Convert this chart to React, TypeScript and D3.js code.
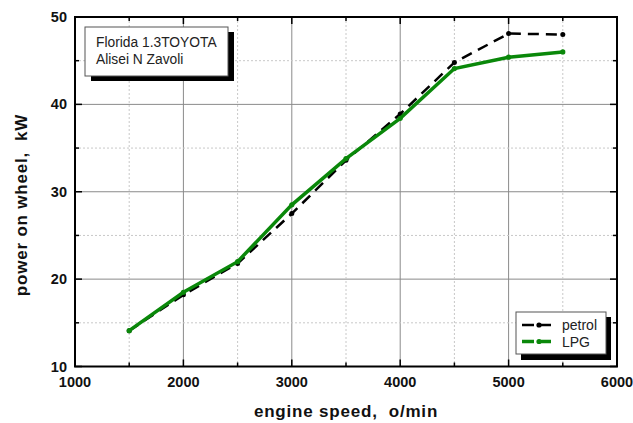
import React, { useEffect, useRef } from 'react';
import * as d3 from 'd3';

const speeds = [1500, 2000, 2500, 3000, 3500, 4000, 4500, 5000, 5500];
const petrol = [14.1, 18.2, 21.8, 27.5, 33.6, 38.9, 44.8, 48.1, 48.0];
const lpg = [14.1, 18.5, 22.0, 28.5, 33.8, 38.4, 44.1, 45.4, 46.0];
const xTicks = [1000, 2000, 3000, 4000, 5000, 6000];
const yTicks = [10, 20, 30, 40, 50];
const xMinor = [1500, 2500, 3500, 4500, 5500];
const yMinor = [15, 25, 35, 45];
const noteLines = ['Florida 1.3TOYOTA', 'Alisei N Zavoli'];

const W = 633;
const H = 423;
const FONT = '"Liberation Sans", Arial, sans-serif';

function App() {
  const ref = useRef<SVGSVGElement | null>(null);

  useEffect(() => {
    if (!ref.current) return;
    const svg = d3.select(ref.current);
    svg.selectAll('*').remove();

    const x = d3.scaleLinear().domain([1000, 6000]).range([75, 617]);
    const y = d3.scaleLinear().domain([10, 50]).range([366.5, 17]);
    const [x0, x1] = x.range();
    const [y0, y1] = y.range();

    svg.append('rect').attr('width', W).attr('height', H).attr('fill', '#fff');

    // grid
    const g = svg.append('g');
    g.selectAll('.gx').data(xTicks.slice(1, -1)).enter().append('line')
      .attr('x1', (d) => x(d)).attr('x2', (d) => x(d)).attr('y1', y1).attr('y2', y0)
      .attr('stroke', '#8a8a8a').attr('stroke-width', 1);
    g.selectAll('.gy').data(yTicks.slice(1, -1)).enter().append('line')
      .attr('y1', (d) => y(d)).attr('y2', (d) => y(d)).attr('x1', x0).attr('x2', x1)
      .attr('stroke', '#8a8a8a').attr('stroke-width', 1);
    g.selectAll('.mx').data(xMinor).enter().append('line')
      .attr('x1', (d) => x(d)).attr('x2', (d) => x(d)).attr('y1', y1).attr('y2', y0)
      .attr('stroke', '#c8c8c8').attr('stroke-width', 1).attr('stroke-dasharray', '2,2');
    g.selectAll('.my').data(yMinor).enter().append('line')
      .attr('y1', (d) => y(d)).attr('y2', (d) => y(d)).attr('x1', x0).attr('x2', x1)
      .attr('stroke', '#c8c8c8').attr('stroke-width', 1).attr('stroke-dasharray', '2,2');

    // inward ticks on all four sides
    const t = svg.append('g').attr('stroke', '#000').attr('stroke-width', 1.5);
    const tx = (vals: number[], len: number) => {
      vals.forEach((v) => {
        t.append('line').attr('x1', x(v)).attr('x2', x(v)).attr('y1', y0).attr('y2', y0 - len);
        t.append('line').attr('x1', x(v)).attr('x2', x(v)).attr('y1', y1).attr('y2', y1 + len);
      });
    };
    const ty = (vals: number[], len: number) => {
      vals.forEach((v) => {
        t.append('line').attr('y1', y(v)).attr('y2', y(v)).attr('x1', x0).attr('x2', x0 + len);
        t.append('line').attr('y1', y(v)).attr('y2', y(v)).attr('x1', x1).attr('x2', x1 - len);
      });
    };
    tx(xTicks, 7);
    tx(xMinor, 4);
    ty(yTicks, 7);
    ty(yMinor, 4);

    svg.append('rect')
      .attr('x', x0).attr('y', y1).attr('width', x1 - x0).attr('height', y0 - y1)
      .attr('fill', 'none').attr('stroke', '#000').attr('stroke-width', 2);

    // tick labels
    svg.append('g').selectAll('text').data(xTicks).enter().append('text')
      .attr('x', (d) => x(d)).attr('y', 387).attr('text-anchor', 'middle')
      .attr('font-family', FONT).attr('font-weight', 'bold').attr('font-size', 14.5)
      .attr('fill', '#111').text((d) => d);
    svg.append('g').selectAll('text').data(yTicks).enter().append('text')
      .attr('x', 67).attr('y', (d) => y(d) + 5).attr('text-anchor', 'end')
      .attr('font-family', FONT).attr('font-weight', 'bold').attr('font-size', 14.5)
      .attr('fill', '#111').text((d) => d);

    // axis titles
    svg.append('text')
      .attr('x', (x0 + x1) / 2).attr('y', 417).attr('text-anchor', 'middle')
      .attr('font-family', FONT).attr('font-weight', 'bold').attr('font-size', 17)
      .attr('letter-spacing', 0.8)
      .attr('fill', '#111').style('white-space', 'pre')
      .text('engine speed,  o/min');
    svg.append('text')
      .attr('transform', 'translate(27,205) rotate(-90)').attr('text-anchor', 'middle')
      .attr('font-family', FONT).attr('font-weight', 'bold').attr('font-size', 17)
      .attr('letter-spacing', 0.8)
      .attr('fill', '#111').style('white-space', 'pre')
      .text('power on wheel,  kW');

    // series
    const line = d3.line<number>().x((_, i) => x(speeds[i])).y((d) => y(d));
    svg.append('path').datum(petrol).attr('d', line)
      .attr('fill', 'none').attr('stroke', '#000').attr('stroke-width', 2.5)
      .attr('stroke-dasharray', '11,7');
    svg.append('g').selectAll('circle').data(petrol).enter().append('circle')
      .attr('cx', (_, i) => x(speeds[i])).attr('cy', (d) => y(d)).attr('r', 2.5).attr('fill', '#000');
    svg.append('path').datum(lpg).attr('d', line)
      .attr('fill', 'none').attr('stroke', '#0a880a').attr('stroke-width', 3.5);
    svg.append('g').selectAll('circle').data(lpg).enter().append('circle')
      .attr('cx', (_, i) => x(speeds[i])).attr('cy', (d) => y(d)).attr('r', 2.6).attr('fill', '#0a880a');

    // annotation box
    const note = svg.append('g');
    note.append('rect').attr('x', 91).attr('y', 32).attr('width', 143).attr('height', 49).attr('fill', '#000');
    note.append('rect').attr('x', 85).attr('y', 27).attr('width', 143).attr('height', 49)
      .attr('fill', '#fff').attr('stroke', '#555').attr('stroke-width', 1);
    noteLines.forEach((s, i) => {
      note.append('text').attr('x', 96).attr('y', 47 + i * 17)
        .attr('font-family', FONT).attr('font-size', 13.8).attr('fill', '#222').text(s);
    });

    // legend
    const leg = svg.append('g');
    leg.append('rect').attr('x', 521).attr('y', 317).attr('width', 90).attr('height', 43).attr('fill', '#000');
    leg.append('rect').attr('x', 516).attr('y', 312).attr('width', 90).attr('height', 42)
      .attr('fill', '#fff').attr('stroke', '#555').attr('stroke-width', 1);
    const items = [
      { name: 'petrol', color: '#000', w: 2.5 },
      { name: 'LPG', color: '#0a880a', w: 3.5 },
    ];
    items.forEach((it, i) => {
      const cy = 325 + i * 16.5;
      leg.append('line').attr('x1', 522).attr('x2', 556).attr('y1', cy).attr('y2', cy)
        .attr('stroke', it.color).attr('stroke-width', it.w).attr('stroke-dasharray', '12,5');
      leg.append('circle').attr('cx', 539).attr('cy', cy).attr('r', 2.6).attr('fill', it.color);
      leg.append('text').attr('x', 562).attr('y', cy + 5)
        .attr('font-family', FONT).attr('font-size', 14).attr('fill', '#222').text(it.name);
    });
  }, []);

  return (
    <svg
      ref={ref}
      width={W}
      height={H}
      style={{ position: 'absolute', left: 0, top: 0, display: 'block' }}
    />
  );
}

export default App;
